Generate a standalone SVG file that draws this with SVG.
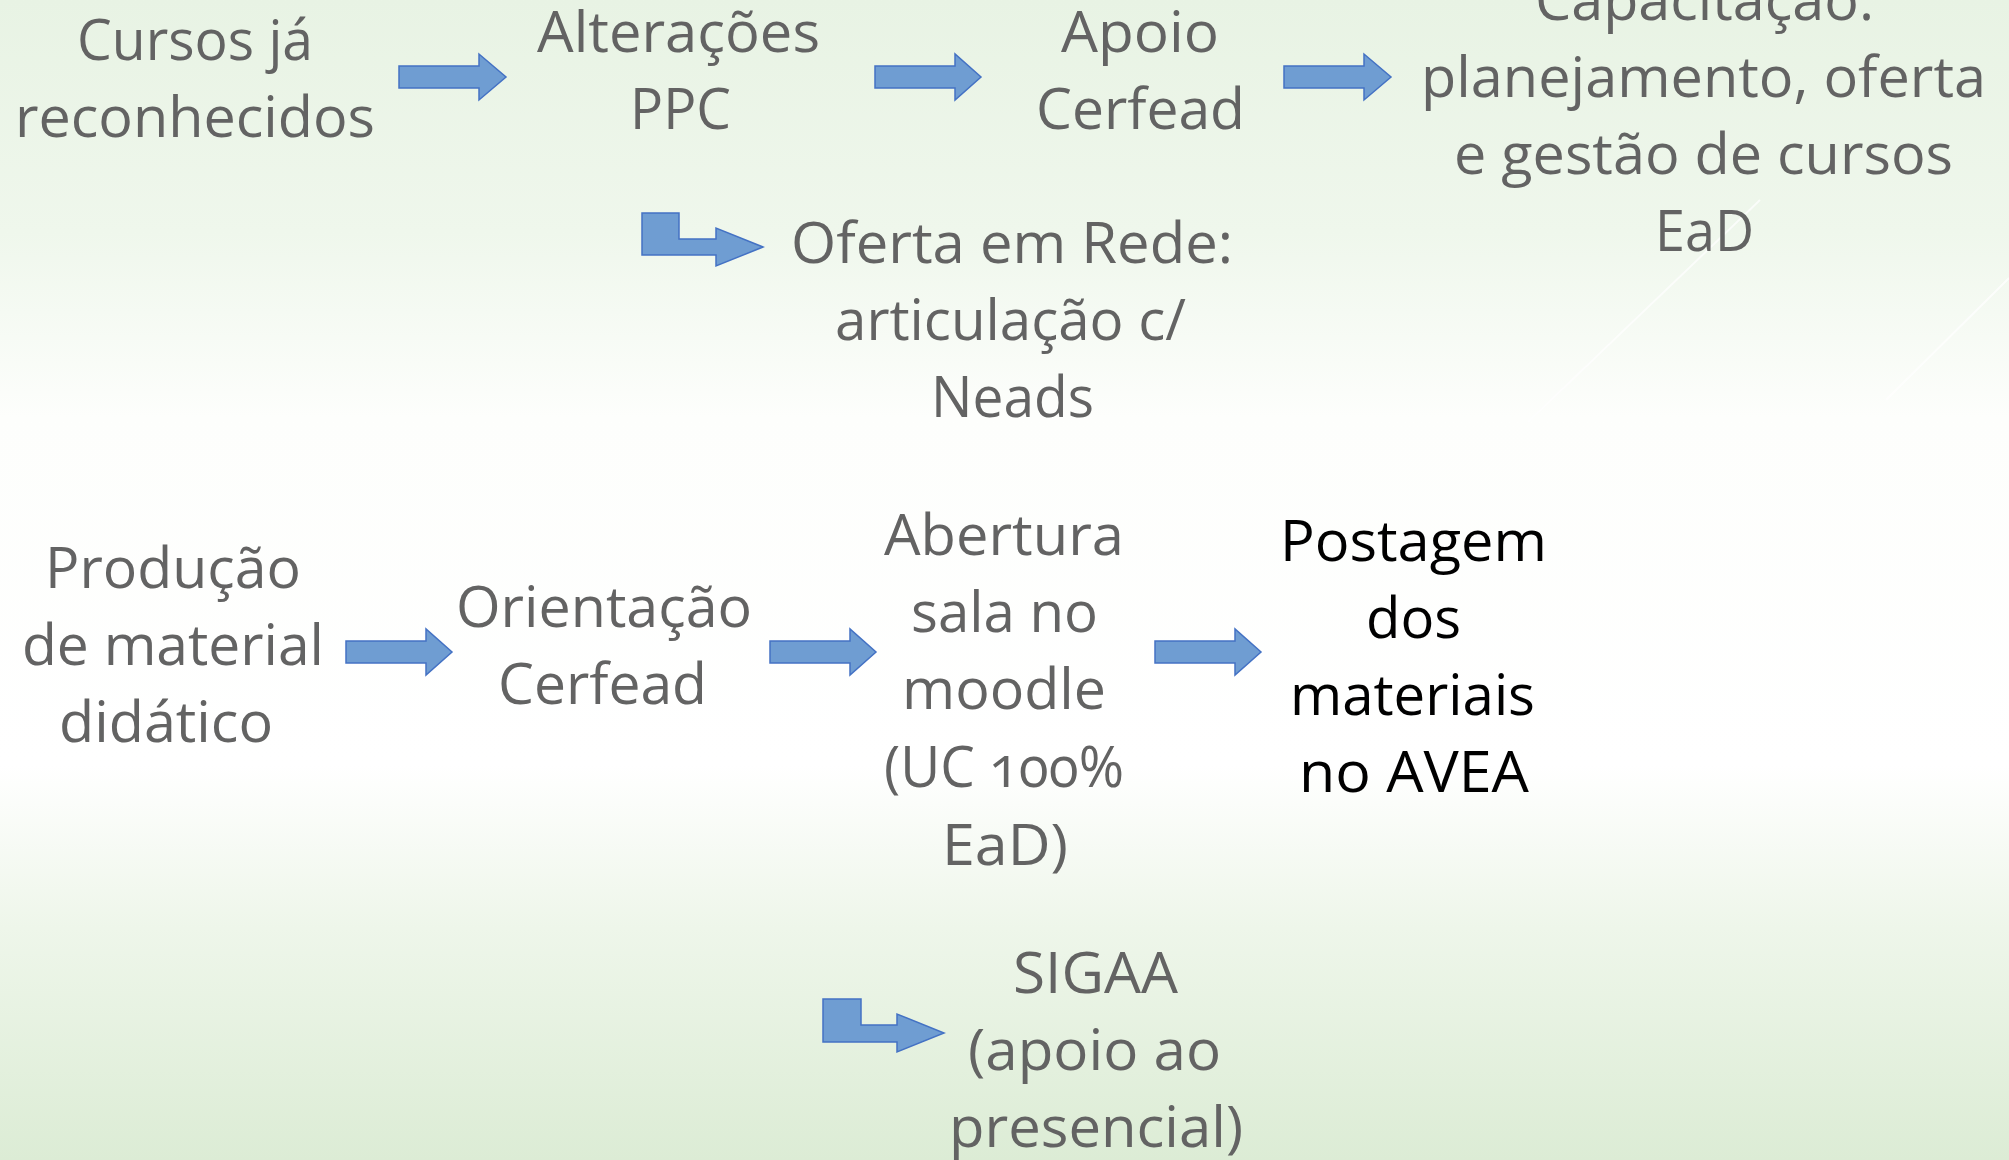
<svg xmlns="http://www.w3.org/2000/svg" width="2009" height="1160" viewBox="0 0 2009 1160">
<style>
.t{font-family:"Open Sans","Liberation Sans",sans-serif;font-size:56px;fill:#636363;text-anchor:middle;font-feature-settings:"onum"}
.k{fill:#000000}
.ar{fill:#6f9dd2;stroke:#4472c4;stroke-width:1.5;stroke-linejoin:miter}
.dl{stroke:#ffffff;stroke-width:2;opacity:0.75}
</style>
<defs>
<linearGradient id="bg" x1="0" y1="0" x2="0" y2="1">
<stop offset="0" stop-color="#e8f3e4"/>
<stop offset="0.2" stop-color="#eff7ec"/>
<stop offset="0.36" stop-color="#fdfefc"/>
<stop offset="0.66" stop-color="#ffffff"/>
<stop offset="0.8" stop-color="#eef6ea"/>
<stop offset="1" stop-color="#dcecd5"/>
</linearGradient>
</defs>
<rect x="0" y="0" width="2009" height="1160" fill="url(#bg)"/>
<line class="dl" x1="1528" y1="422" x2="1760" y2="200"/>
<line class="dl" x1="1886" y1="400" x2="2009" y2="278"/>

<g id="connectors">
<path class="ar" d="M399,66 H479 V54 L506,77 L479,100 V88 H399 Z"/>
<path class="ar" d="M875,66 H955 V54 L981,77 L955,100 V88 H875 Z"/>
<path class="ar" d="M1284,66 H1364 V54 L1391,77 L1364,100 V88 H1284 Z"/>
<path class="ar" d="M642,213 H679 V239 H716 V228 L763,247 L716,266 V255 H642 Z"/>
<path class="ar" d="M346,641 H426 V629 L452,652 L426,675 V663 H346 Z"/>
<path class="ar" d="M770,641 H850 V629 L876,652 L850,675 V663 H770 Z"/>
<path class="ar" d="M1155,641 H1235 V629 L1261,652 L1235,675 V663 H1155 Z"/>
<path class="ar" d="M823,999 H861 V1025 H897 V1014 L944,1033 L897,1052 V1042 H823 Z"/>
</g>

<g id="cursos">
<text class="t" x="195" y="60" textLength="236" lengthAdjust="spacingAndGlyphs">Cursos já</text>
<text class="t" x="195" y="137" textLength="360" lengthAdjust="spacingAndGlyphs">reconhecidos</text>
</g>
<g id="alteracoes">
<text class="t" x="678.5" y="52" textLength="283" lengthAdjust="spacingAndGlyphs">Alterações</text>
<text class="t" x="680.5" y="129" textLength="101" lengthAdjust="spacingAndGlyphs">PPC</text>
</g>
<g id="apoio">
<text class="t" x="1140" y="52" textLength="158" lengthAdjust="spacingAndGlyphs">Apoio</text>
<text class="t" x="1140.5" y="129" textLength="209" lengthAdjust="spacingAndGlyphs">Cerfead</text>
</g>
<g id="capacitacao">
<text class="t" x="1704.5" y="20" textLength="339" lengthAdjust="spacingAndGlyphs">Capacitação:</text>
<text class="t" x="1703.5" y="97" textLength="565" lengthAdjust="spacingAndGlyphs">planejamento, oferta</text>
<text class="t" x="1703.5" y="174" textLength="499" lengthAdjust="spacingAndGlyphs">e gestão de cursos</text>
<text class="t" x="1704.5" y="251" textLength="99" lengthAdjust="spacingAndGlyphs">EaD</text>
</g>
<g id="oferta">
<text class="t" x="1012" y="263" textLength="442" lengthAdjust="spacingAndGlyphs">Oferta em Rede:</text>
<text class="t" x="1010.5" y="340" textLength="351" lengthAdjust="spacingAndGlyphs">articulação c/</text>
<text class="t" x="1012.5" y="417" textLength="163" lengthAdjust="spacingAndGlyphs">Neads</text>
</g>
<g id="producao">
<text class="t" x="173" y="588" textLength="256" lengthAdjust="spacingAndGlyphs">Produção</text>
<text class="t" x="173" y="665" textLength="302" lengthAdjust="spacingAndGlyphs">de material</text>
<text class="t" x="166" y="742" textLength="214" lengthAdjust="spacingAndGlyphs">didático</text>
</g>
<g id="orientacao">
<text class="t" x="604" y="627" textLength="296" lengthAdjust="spacingAndGlyphs">Orientação</text>
<text class="t" x="602.5" y="704" textLength="209" lengthAdjust="spacingAndGlyphs">Cerfead</text>
</g>
<g id="abertura">
<text class="t" x="1004" y="555" textLength="240" lengthAdjust="spacingAndGlyphs">Abertura</text>
<text class="t" x="1004.5" y="632" textLength="187" lengthAdjust="spacingAndGlyphs">sala no</text>
<text class="t" x="1004" y="709" textLength="204" lengthAdjust="spacingAndGlyphs">moodle</text>
<text class="t" x="1004" y="787" textLength="240" lengthAdjust="spacingAndGlyphs">(UC 100%</text>
<text class="t" x="1005" y="865" textLength="126" lengthAdjust="spacingAndGlyphs">EaD)</text>
</g>
<g id="postagem">
<text class="t k" x="1413.5" y="561" textLength="267" lengthAdjust="spacingAndGlyphs">Postagem</text>
<text class="t k" x="1413.5" y="638" textLength="95" lengthAdjust="spacingAndGlyphs">dos</text>
<text class="t k" x="1412.5" y="715" textLength="245" lengthAdjust="spacingAndGlyphs">materiais</text>
<text class="t k" x="1414" y="792" textLength="230" lengthAdjust="spacingAndGlyphs">no AVEA</text>
</g>
<g id="sigaa">
<text class="t" x="1095.5" y="993" textLength="165" lengthAdjust="spacingAndGlyphs">SIGAA</text>
<text class="t" x="1094.5" y="1070" textLength="253" lengthAdjust="spacingAndGlyphs">(apoio ao</text>
<text class="t" x="1096" y="1147" textLength="294" lengthAdjust="spacingAndGlyphs">presencial)</text>
</g>
</svg>
